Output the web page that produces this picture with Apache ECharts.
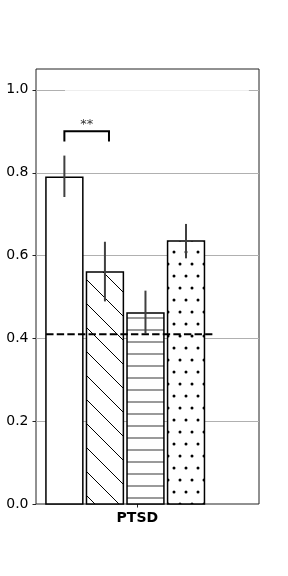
<!DOCTYPE html>
<html>
<head>
<meta charset="utf-8">
<script src="https://cdn.jsdelivr.net/npm/echarts@6/dist/echarts.min.js"></script>
<style>html,body{margin:0;padding:0;background:#fff}#c{width:288px;height:576px}</style>
</head>
<body>
<div id="c"></div>
<script>
// ---- data ----
const categories = ['PTSD'];
const barX = [-0.36, -0.16, 0.04, 0.24];
const barValues = [0.789, 0.560, 0.461, 0.635];
const errLow = [0.741, 0.489, 0.412, 0.593];
const errHigh = [0.841, 0.633, 0.515, 0.676];
const baselineValue = 0.41;
const baselineX = [-0.45, 0.37];
const yTicks = [0, 0.2, 0.4, 0.6, 0.8, 1.0];
const xTicks = [0];
const sigX = [-0.36, -0.14];
const sigTop = 0.90;
const sigLeg = 0.875;
const sigLabel = '**';
const faintX = [-0.357, 0.55];
const faintY = 1.0;

// ---- patterns ----
function makeCanvas(w, h) { const c = document.createElement('canvas'); c.width = w; c.height = h; return c; }
function whitePattern() { const c = makeCanvas(8, 8); const g = c.getContext('2d'); g.fillStyle = '#fff'; g.fillRect(0, 0, 8, 8); return c; }
function diagPattern() {
  const c = makeCanvas(24, 24); const g = c.getContext('2d');
  g.fillStyle = '#fff'; g.fillRect(0, 0, 24, 24);
  g.strokeStyle = '#000'; g.lineWidth = 1;
  for (let k = -1; k <= 1; k++) {
    g.beginPath(); g.moveTo(-2, -2 + 1 + 24 * k); g.lineTo(26, 26 + 1 + 24 * k); g.stroke();
  }
  return c;
}
function horizPattern() {
  const c = makeCanvas(12, 12); const g = c.getContext('2d');
  g.fillStyle = '#fff'; g.fillRect(0, 0, 12, 12);
  g.fillStyle = '#7a7a7a'; g.fillRect(0, 5.25, 12, 1.5);
  return c;
}
function dotPattern() {
  const c = makeCanvas(12, 24); const g = c.getContext('2d');
  g.fillStyle = '#fff'; g.fillRect(0, 0, 12, 24);
  g.fillStyle = '#000';
  const pts = [[6, 12], [0, 0], [12, 0], [0, 24], [12, 24]];
  pts.forEach(p => { g.beginPath(); g.arc(p[0], p[1], 1.5, 0, Math.PI * 2); g.fill(); });
  return c;
}
const patterns = [whitePattern(), diagPattern(), horizPattern(), dotPattern()].map(c => ({ image: c, repeat: 'repeat' }));

const barWidth = 0.182;
const xMin = -0.5, xMax = 0.6, yMin = 0, yMax = 1.05;
const chart = echarts.init(document.getElementById('c'), null, { renderer: 'canvas' });
const font = 'DejaVu Sans';

chart.setOption({
  animation: false,
  grid: { left: 36, right: 29, top: 69, bottom: 72, show: true, borderColor: '#222', borderWidth: 1, backgroundColor: 'transparent' },
  xAxis: {
    type: 'value', min: xMin, max: xMax, interval: 0.5,
    axisLine: { show: false },
    splitLine: { show: false },
    axisTick: { show: false },
    axisLabel: { showMinLabel: false, showMaxLabel: false, formatter: v => (Math.abs(v) < 1e-9 ? categories[0] : ''), margin: 7, fontFamily: font, fontSize: 14, fontWeight: 'bold', color: '#000' }
  },
  yAxis: {
    type: 'value', min: yMin, max: yMax, interval: 0.2,
    axisLine: { show: false },
    axisTick: { show: false },
    axisLabel: { showMaxLabel: false, formatter: v => v.toFixed(1), margin: 7.5, fontFamily: font, fontSize: 14, color: '#000' },
    splitLine: { show: false }
  },
  series: [
    {
      type: 'custom', z: 1, silent: true, clip: false,
      data: yTicks.map(v => [0, v]),
      renderItem: (params, api) => {
        const y = api.value(1);
        const a = api.coord([xMin, y]), b = api.coord([xMax, y]);
        const yy = Math.round(a[1]) + 0.5;
        const children = [
          { type: 'line', shape: { x1: a[0] - 3.5, y1: yy, x2: a[0], y2: yy }, style: { stroke: '#222', lineWidth: 1 } }
        ];
        if (y > 0) children.push({ type: 'line', shape: { x1: a[0], y1: yy, x2: b[0], y2: yy }, style: { stroke: '#b0b0b0', lineWidth: 1 } });
        return { type: 'group', children };
      }
    },
    {
      type: 'custom', z: 1, silent: true, clip: false,
      data: xTicks.map(v => [v, 0]),
      renderItem: (params, api) => {
        const a = api.coord([api.value(0), yMin]);
        const xx = Math.round(a[0]) + 0.5;
        return { type: 'line', shape: { x1: xx, y1: a[1], x2: xx, y2: a[1] + 3.5 }, style: { stroke: '#222', lineWidth: 1 } };
      }
    },
    {
      type: 'custom', z: 2, silent: true,
      data: [[faintX[0], faintY, faintX[1]]],
      renderItem: (params, api) => {
        const a = api.coord([api.value(0), api.value(1)]), b = api.coord([api.value(2), api.value(1)]);
        return { type: 'line', shape: { x1: a[0], y1: Math.round(a[1]) + 0.5, x2: b[0], y2: Math.round(b[1]) + 0.5 }, style: { stroke: '#eeeeee', lineWidth: 1 } };
      }
    },
    {
      type: 'custom', z: 3, silent: true,
      data: barX.map((x, i) => [x, barValues[i]]),
      renderItem: (params, api) => {
        const x = api.value(0), y = api.value(1);
        const p0 = api.coord([x - barWidth / 2, y]);
        const p1 = api.coord([x + barWidth / 2, 0]);
        return { type: 'rect', shape: { x: p0[0], y: p0[1], width: p1[0] - p0[0], height: p1[1] - p0[1] },
          style: { fill: patterns[params.dataIndex], stroke: '#000', lineWidth: 1.5 } };
      }
    },
    {
      type: 'custom', z: 4, silent: true,
      data: barX.map((x, i) => [x, errLow[i], errHigh[i]]),
      renderItem: (params, api) => {
        const a = api.coord([api.value(0), api.value(1)]), b = api.coord([api.value(0), api.value(2)]);
        return { type: 'line', shape: { x1: a[0], y1: a[1], x2: b[0], y2: b[1] }, style: { stroke: '#404040', lineWidth: 2 } };
      }
    },
    {
      type: 'custom', z: 5, silent: true,
      data: [[baselineX[0], baselineValue, baselineX[1]]],
      renderItem: (params, api) => {
        const a = api.coord([api.value(0), api.value(1)]), b = api.coord([api.value(2), api.value(1)]);
        return { type: 'line', shape: { x1: a[0], y1: a[1], x2: b[0], y2: b[1] }, style: { stroke: '#000', lineWidth: 2, lineDash: [7.4, 3.2] } };
      }
    },
    {
      type: 'custom', z: 6, silent: true,
      data: [[sigX[0], sigTop, sigX[1], sigLeg]],
      renderItem: (params, api) => {
        const x0 = api.value(0), yt = api.value(1), x1 = api.value(2), yl = api.value(3);
        const p1 = api.coord([x0, yl]), p2 = api.coord([x0, yt]), p3 = api.coord([x1, yt]), p4 = api.coord([x1, yl]);
        return { type: 'group', children: [
          { type: 'polyline', shape: { points: [p1, p2, p3, p4] }, style: { stroke: '#000', lineWidth: 2, fill: null } },
          { type: 'text', x: (p2[0] + p3[0]) / 2, y: p2[1] - 0.5, style: { text: sigLabel, fontFamily: font, fontSize: 13, fill: '#333', align: 'center', verticalAlign: 'bottom' } }
        ] };
      }
    }
  ]
});
</script>
</body>
</html>
